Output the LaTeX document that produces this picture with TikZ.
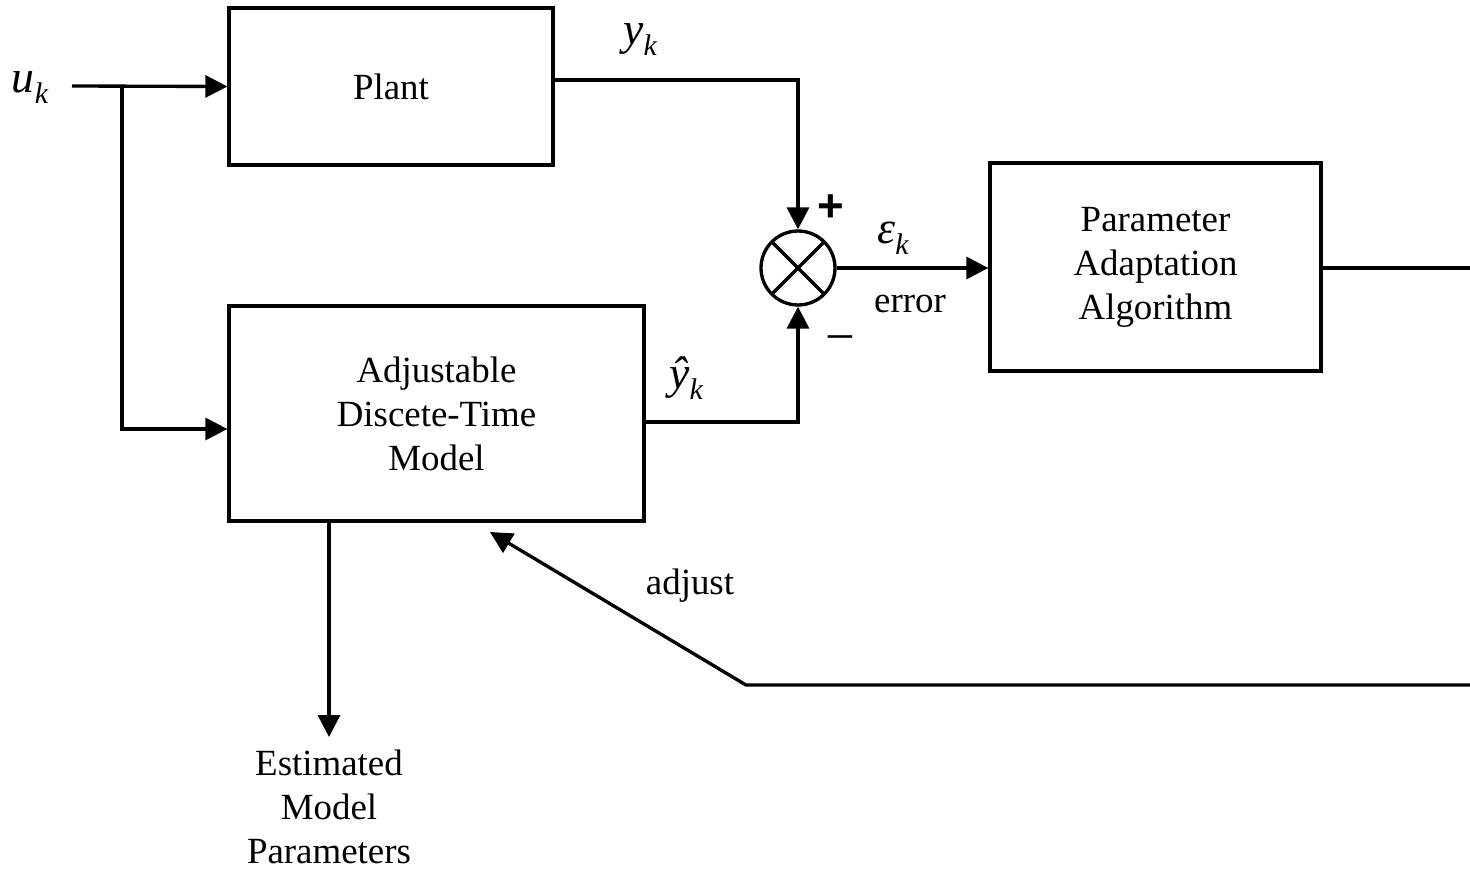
\documentclass[tikz,border=0pt]{standalone}
\usepackage{fontspec}
\setmainfont{Liberation Serif}
\newfontfamily\plusfont{Liberation Sans}
\usetikzlibrary{arrows.meta,positioning,calc}

% italic signal name with a lowered index
\newcommand\signame[2]{{\fontsize{26}{26}\selectfont\itshape #1}\raisebox{-0.22cm}{\fontsize{17}{17}\selectfont\itshape #2}}

\begin{document}
\begin{tikzpicture}[
  x=0.02cm, y=-0.02cm, line width=1.9pt,
  >={Triangle[length=4.4mm,width=4.4mm]},
  font=\fontsize{21}{25}\selectfont,
  block/.style={draw, align=center, inner sep=0pt},
  sum/.style={draw, circle, minimum size=1.48cm, inner sep=0pt,
    path picture={\draw (path picture bounding box.north west) -- (path picture bounding box.south east)
                        (path picture bounding box.north east) -- (path picture bounding box.south west);}},
  lbl/.style={inner sep=0pt},
  sig/.style={->}]
\useasboundingbox (0,0) rectangle (1470,871);
\node[block, minimum width=6.48cm, minimum height=3.14cm] (plant) at (391,86.5) {Plant};
\node[block, minimum width=8.3cm, minimum height=4.3cm] (model) at (436.5,413.5) {Adjustable\\Discete-Time\\Model};
\node[block, minimum width=6.62cm, minimum height=4.16cm] (paa) at (1155.5,267) {Parameter\\Adaptation\\Algorithm};
\node[sum] (sum) at (798,268) {};
\node[align=center, inner sep=0.22cm, anchor=north] (est) at (329,737) {Estimated\\Model\\Parameters};
% junctions and loose ends
\coordinate (in) at (72,86);
\coordinate (tap) at (122,86);
\coordinate (out) at (1470,268);
\coordinate (fbr) at (1470,685);
\coordinate (fbl) at (746,685);
\coordinate (adj) at (490,532);
% signal lines
\draw[sig] (in) -- (plant.west);
\draw[sig] (tap) |- ([yshift=-0.31cm]model.west);
\draw[sig] ([yshift=0.13cm]plant.east) -| (sum.north);
\draw[sig] ([yshift=-0.17cm]model.east) -| (sum.south);
\draw[sig] (sum.east) -- (sum.east -| paa.west);
\draw (paa.east |- out) -- (out);
\draw[sig] (fbr) -- (fbl) -- (adj);
\draw[sig] (model.south -| est.north) -- (est.north);
% labels
\node[lbl] (uk) at (30,88) {\signame{u}{k}};
\node[lbl] (yk) at (640,40) {\signame{y}{k}};
\node[lbl] (yhk) at (686,378) {\signame{ŷ}{k}};
\node[lbl] (ek) at (893,238) {\signame{ε}{k}};
\node[lbl] (err) at (910,304) {error};
\node[lbl] (adjl) at (690,586) {adjust};
\node[lbl, font=\plusfont\bfseries\fontsize{26}{26}\selectfont] (plus) at (831,208) {+};
\node[lbl, font=\fontsize{30}{30}\selectfont] (minus) at (840,345) {−};
\end{tikzpicture}
\end{document}
